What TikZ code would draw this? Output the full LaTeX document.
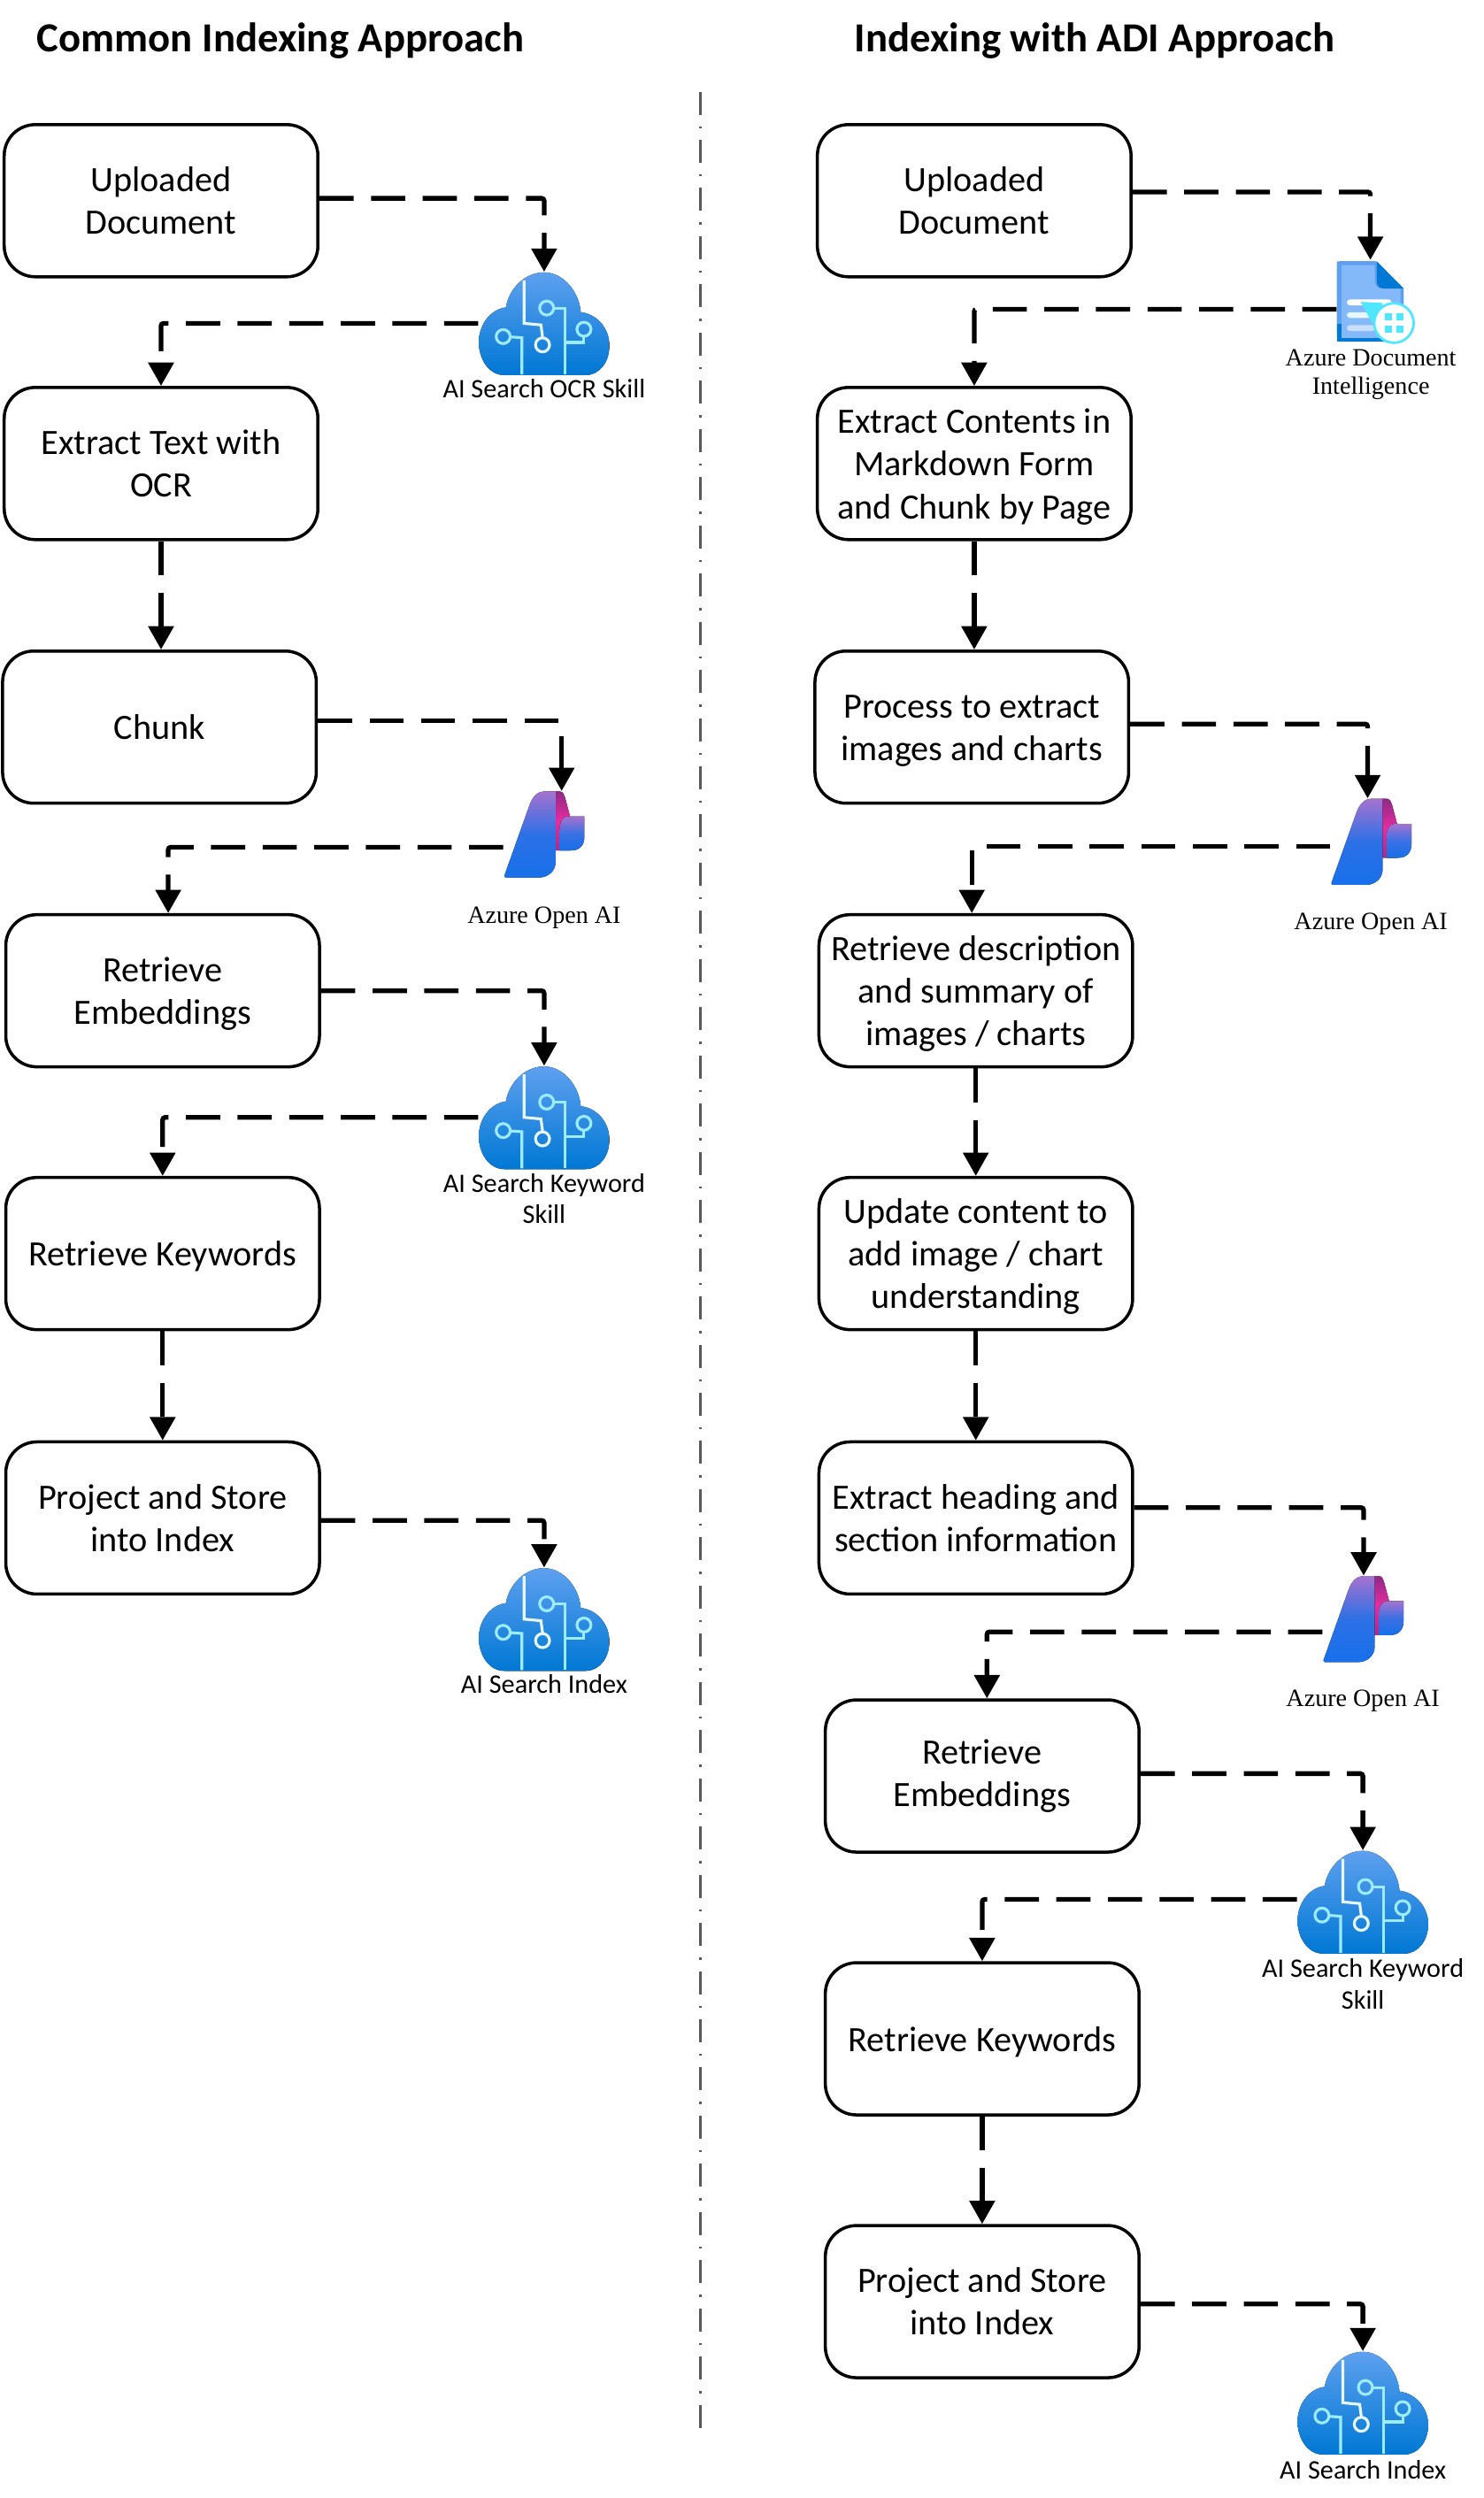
\documentclass[tikz,border=0pt]{standalone}
\usepackage{fontspec}
\setmainfont{Carlito}
\newfontfamily\labelserif{Liberation Serif}
\usetikzlibrary{arrows.meta}
\definecolor{cloudtop}{HTML}{5EA0EF}
\definecolor{azblue}{HTML}{0078D4}
\definecolor{wirecyan}{HTML}{9CEBFF}
\definecolor{wirepale}{HTML}{E6F7FF}
\definecolor{pagelight}{HTML}{83B9F9}
\definecolor{badgecyan}{HTML}{50E6FF}
\definecolor{oaiblue}{HTML}{1770EA}
\definecolor{oaipurple}{HTML}{A572CF}
\definecolor{oaipink}{HTML}{E52D9F}
\definecolor{oaidark}{HTML}{8F2A85}
\newcommand{\lowline}{\rule{0pt}{10pt}}
\tikzset{
  stepbox/.style={draw,line width=1pt,rounded corners=10pt,align=center,
    minimum width=3.546cm,minimum height=1.72cm,inner sep=0pt,
    font=\fontsize{11.45}{13.7}\selectfont},
  flow/.style={line width=1.5pt,dash pattern=on 11pt off 5.6pt,rounded corners=0.8pt,
    -{Triangle[length=7.5pt,width=8pt]}},
  cloudspot/.style={inner sep=0pt,minimum width=1.476cm,minimum height=1.152cm},
  oaispot/.style={inner sep=0pt,minimum width=0.92cm,minimum height=0.97cm},
  docspot/.style={inner sep=0pt,minimum width=0.75cm,minimum height=0.92cm},
  sanslabel/.style={align=center,inner sep=0pt,font=\fontsize{8.6}{10.2}\selectfont},
  seriflabel/.style={align=center,inner sep=0pt,font=\labelserif\fontsize{8}{9.2}\selectfont},
  headline/.style={inner sep=0pt,font=\fontsize{13.3}{16}\selectfont\bfseries},
  wire/.style={line width=0.9pt,draw=wirecyan},
  pics/aicloud/.style={code={
    \fill[top color=cloudtop,bottom color=azblue]
      (-25,32.5) .. controls (-35,32.5) and (-41,22) .. (-41,12)
      .. controls (-41,0) and (-33,-9) .. (-24,-10)
      .. controls (-22,-22) and (-12,-32) .. (0,-32)
      .. controls (12,-32) and (22,-20) .. (23,-7)
      .. controls (33,-6) and (41,3) .. (41,14)
      .. controls (41,24) and (35,32.5) .. (26,32.5) -- cycle;
    \draw[wire,draw=wirepale] (-12.6,-27) -- (-12.6,0) -- (-2,1) -- (-1,8.5);
    \draw[wire,draw=wirepale] (-1,13.5) circle (4.4);
    \draw[wire] (6,-9.5) -- (13,-9.5) -- (13,32);
    \draw[wire] (1.6,-9.6) circle (4.4);
    \draw[wire] (25,8.5) -- (25,12) -- (13,12);
    \draw[wire] (25,3.7) circle (4.4);
    \draw[wire] (-21.3,8.5) -- (-14,9) -- (-14,32);
    \draw[wire] (-25.7,8.3) circle (4.4);
  }},
  pics/oaimark/.style={code={
    \fill[top color=oaidark,bottom color=oaidark!70!oaipink,middle color=oaipink]
      (6.9,-27) -- (9.6,-27) .. controls (11.5,-27) and (12.3,-25) .. (12.8,-23.3)
      -- (16,-11.3) -- (16,10) -- (6.9,10) -- cycle;
    \fill[top color=oaipurple,bottom color=oaiblue,middle color=oaiblue!85!oaipurple]
      (-25.2,25.7) -- (-9.4,-18.7) .. controls (-7.5,-24) and (-4,-27) .. (-0.6,-27)
      -- (6.9,-27) -- (6.9,17.4) .. controls (6.9,23) and (2,27) .. (-3.3,27)
      -- (-24.3,27) .. controls (-25,27) and (-25.4,26.4) .. (-25.2,25.7) -- cycle;
    \fill[top color=oaipurple,bottom color=oaiblue,middle color=oaiblue!75!oaipurple]
      (9.6,10) -- (9.6,-3) .. controls (9.6,-8) and (11,-11.3) .. (15.2,-11.3)
      -- (25,-11.3) -- (25,1.7) .. controls (25,6.5) and (22,10) .. (17,10) -- cycle;
  }},
  pics/docmark/.style={code={
    \fill[azblue,rounded corners=1pt] (-20.9,-25) -- (4,-25) -- (20.8,-8) -- (20.8,25.4) -- (-20.9,25.4) -- cycle;
    \fill[cloudtop] (-20.9,-25) -- (4,-25) -- (20.8,-8) -- (20.8,12) -- (-20.9,20) -- cycle;
    \fill[azblue] (-20.9,14) rectangle (-18.1,25.4);
    \fill[pagelight] (-18.1,-22.6) -- (2.8,-22.6) -- (2.8,-13) .. controls (2.8,-9.5) and (4.5,-8) .. (6.9,-8)
      -- (18.9,-8) -- (18.9,23) -- (-18.1,23) -- cycle;
    \fill[azblue] (4,-25) -- (20.8,-8) -- (8.5,-8) .. controls (5.5,-8) and (4,-10) .. (4,-13) -- cycle;
    \fill[white,rounded corners=1pt] (-14.8,-1.1) rectangle (13.3,2.6);
    \fill[wirepale,rounded corners=1pt] (-14.8,6.9) rectangle (1.3,10.5);
    \fill[pagelight!45!white,rounded corners=1pt] (-14.8,15) rectangle (3.2,18.7);
    \fill[badgecyan] (-6.1,0.4) -- (7.8,1.1) -- (2.2,15.6) -- cycle;
    \draw[badgecyan,fill=white,line width=0.8pt] (14.8,13.7) circle (12.4);
    \fill[badgecyan] (9.1,7.8) rectangle (13.3,11.9);
    \fill[badgecyan] (16.5,7.8) rectangle (20.7,11.9);
    \fill[badgecyan] (9.1,15.2) rectangle (13.3,19.6);
    \fill[badgecyan] (16.5,15.2) rectangle (20.7,19.6);
  }},
}
\begin{document}
\begin{tikzpicture}[x=0.018cm,y=-0.018cm]
  \useasboundingbox (-0.6,-0.5) rectangle (930.5,1567.8);

  \node[headline] (titleL) at (175.5,25) {Common Indexing Approach};
  \node[headline] (titleR) at (686.5,25) {Indexing with ADI Approach};
  \coordinate (sepTop) at (439,57);
  \coordinate (sepBot) at (439,1527);
  \draw[line width=0.85pt,draw=black!65,dash pattern=on 7.4pt off 3.7pt on 0.7pt off 3.7pt] (sepTop) -- (sepBot);

  % left column
  \node[stepbox] (L1) at (100.5,125.5) {Uploaded\\Document};
  \node[stepbox] (L2) at (100.5,290.5) {Extract Text with\\OCR};
  \node[stepbox] (L3) at (99.5,456) {Chunk};
  \node[stepbox] (L4) at (101.5,621.5) {\lowline Retrieve\\Embeddings};
  \node[stepbox] (L5) at (101.5,786.5) {\lowline Retrieve Keywords};
  \node[stepbox] (L6) at (101.5,952.5) {Project and Store\\into Index};

  % right column
  \node[stepbox] (R1) at (611,125.5) {Uploaded\\Document};
  \node[stepbox] (R2) at (611,290.5) {\lowline Extract Contents in\\Markdown Form\\and Chunk by Page};
  \node[stepbox] (R3) at (609.5,456) {\lowline Process to extract\\images and charts};
  \node[stepbox] (R4) at (612,621.5) {\lowline Retrieve description\\and summary of\\images / charts};
  \node[stepbox] (R5) at (612,786.5) {\lowline Update content to\\add image / chart\\understanding};
  \node[stepbox] (R6) at (612,952.5) {Extract heading and\\section information};
  \node[stepbox] (R7) at (616,1114.5) {Retrieve\\Embeddings};
  \node[stepbox] (R8) at (616,1279.5) {\lowline Retrieve Keywords};
  \node[stepbox] (R9) at (616,1444.5) {Project and Store\\into Index};

  % service icons
  \node[cloudspot] (skillOcr) at (341,202.5) {};
  \node[cloudspot] (skillKey) at (341,701) {};
  \node[cloudspot] (indexL) at (341,1016) {};
  \node[cloudspot] (skillKeyR) at (855,1193.5) {};
  \node[cloudspot] (indexR) at (855,1508) {};
  \node[oaispot] (oaiL) at (341.3,523.4) {};
  \node[oaispot] (oaiR) at (860.5,528) {};
  \node[oaispot] (oaiRb) at (855.5,1016) {};
  \node[docspot] (docAdi) at (859.7,188.6) {};
  \foreach \spot in {skillOcr,skillKey,indexL,skillKeyR,indexR}
    \pic at (\spot) {aicloud};
  \foreach \spot in {oaiL,oaiR,oaiRb}
    \pic at (\spot) {oaimark};
  \pic at (docAdi) {docmark};

  \node[sanslabel] (lblOcr) at (341,243.5) {AI Search OCR Skill};
  \node[sanslabel] (lblKey) at (341,752) {AI Search Keyword\\Skill};
  \node[sanslabel] (lblIdxL) at (341,1057) {AI Search Index};
  \node[sanslabel] (lblKeyR) at (855,1245) {AI Search Keyword\\Skill};
  \node[sanslabel] (lblIdxR) at (855,1550) {AI Search Index};
  \node[seriflabel] (lblOaiL) at (341,575.5) {Azure Open AI};
  \node[seriflabel] (lblOaiR) at (860,579.5) {Azure Open AI};
  \node[seriflabel] (lblOaiRb) at (855,1067.5) {Azure Open AI};
  \node[seriflabel] (lblDoc) at (860,234.5) {Azure Document\\Intelligence};

  % left connectors
  \draw[flow] ([shift={(0,-1.5)}]L1.east) -| (skillOcr.north);
  \draw[flow] (skillOcr.west) -| (L2.north);
  \draw[flow] (L2.south) -- (L3.north -| L2.south);
  \draw[flow] ([shift={(0,-4)}]L3.east) -| ([shift={(10.7,0)}]oaiL.north);
  \draw[flow] ([shift={(0,8)}]oaiL.west) -| ([shift={(3.5,0)}]L4.north);
  \draw[flow] (L4.east) -| (skillKey.north);
  \draw[flow] (skillKey.west) -| (L5.north);
  \draw[flow] (L5.south) -- (L6.north);
  \draw[flow] ([shift={(0,1.5)}]L6.east) -| (indexL.north);

  % right connectors
  \draw[flow] ([shift={(0,-5.5)}]R1.east) -| (docAdi.north);
  \draw[flow] ([shift={(0,5)}]docAdi.west) -| (R2.north);
  \draw[flow] (R2.south) -- (R3.north -| R2.south);
  \draw[flow] ([shift={(0,-2)}]R3.east) -| ([shift={(-2.5,0)}]oaiR.north);
  \draw[flow] ([shift={(0,3)}]oaiR.west) -| (R4.north -| R3.south);
  \draw[flow] (R4.south) -- (R5.north);
  \draw[flow] (R5.south) -- (R6.north);
  \draw[flow] ([shift={(0,-6.5)}]R6.east) -| (oaiRb.north);
  \draw[flow] ([shift={(0,8)}]oaiRb.west) -| ([shift={(3,0)}]R7.north);
  \draw[flow] ([shift={(0,-1.5)}]R7.east) -| (skillKeyR.north);
  \draw[flow] ([shift={(0,-1.5)}]skillKeyR.west) -| (R8.north);
  \draw[flow] (R8.south) -- (R9.north);
  \draw[flow] ([shift={(0,1.5)}]R9.east) -| (indexR.north);
\end{tikzpicture}
\end{document}
